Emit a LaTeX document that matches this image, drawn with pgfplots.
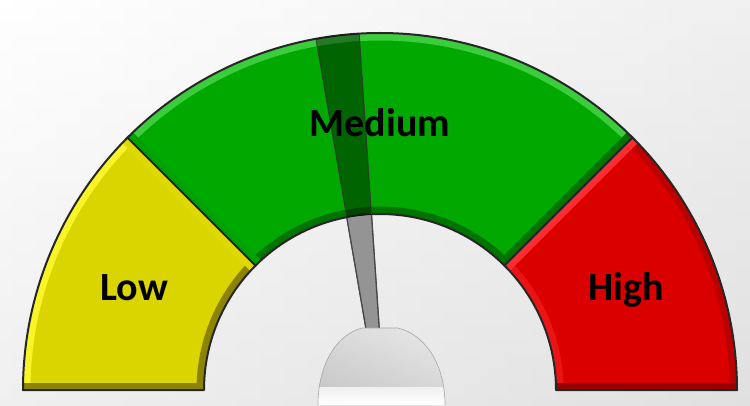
\documentclass[border=0pt]{standalone}
\usepackage{pgfplots}
\usepackage{pgfplotstable}
\pgfplotsset{compat=1.18}
\usepackage{fontspec}
\newfontfamily\labfont{Carlito}
\usetikzlibrary{calc}

\definecolor{lowc}{RGB}{218,212,0}
\definecolor{lowl}{RGB}{248,244,40}
\definecolor{lowd}{RGB}{140,132,0}
\definecolor{medc}{RGB}{0,168,0}
\definecolor{medl}{RGB}{60,205,60}
\definecolor{medd}{RGB}{0,115,0}
\definecolor{higc}{RGB}{218,0,0}
\definecolor{higl}{RGB}{255,45,45}
\definecolor{higd}{RGB}{150,0,0}

% gauge bands, in percent of the half circle
\pgfplotstableread{
from to  col label
0    25  low Low
25   75  med Medium
75   100 hig High
}\bands
\def\needleval{46.2}

% colour of a bevel edge from its outward normal (light from upper left)
\newcommand\edgecol[2]{%
  \pgfmathsetmacro\bb{cos(#1-130)}%
  \pgfmathsetmacro\pp{min(100,abs(\bb)*150)}%
  \ifdim\bb pt>0pt \colorlet{ec}{#2l!\pp!#2c}\else\colorlet{ec}{#2d!\pp!#2c}\fi}

\begin{document}
\begin{tikzpicture}
\begin{axis}[x=1bp, y=1bp, xmin=0, xmax=750, ymin=0, ymax=405,
    hide axis, clip=false]
\pgfplotsextra{
  \def\Ro{357}\def\Ri{176}
  \coordinate (C) at (axis cs:380,15);
  \def\halfdisc##1{($(C)+(0:##1)$) arc[start angle=0, end angle=180, radius=##1] -- cycle}
  % background
  \shade[left color=white, right color=gray!26] (axis cs:0,0) rectangle (axis cs:750,405);
  \shade[top color=white, bottom color=gray!22, opacity=0.55] (axis cs:0,0) rectangle (axis cs:750,405);
  % drop shadow of the dial
  \fill[black, opacity=0.35, shift={(3bp,-2bp)}]
    ($(C)+(0:\Ro bp)$) arc[start angle=0, end angle=180, radius=\Ro bp]
    -- ($(C)+(180:\Ri bp)$) arc[start angle=180, end angle=0, radius=\Ri bp] -- cycle;
  % bands
  \foreach \i in {0,1,2}{
    \pgfplotstablegetelem{\i}{from}\of\bands \let\pa\pgfplotsretval
    \pgfplotstablegetelem{\i}{to}\of\bands \let\pb\pgfplotsretval
    \pgfplotstablegetelem{\i}{col}\of\bands \let\pc\pgfplotsretval
    \pgfmathsetmacro\aA{180-1.8*\pa}
    \pgfmathsetmacro\aB{180-1.8*\pb}
    \pgfmathsetmacro\aM{(\aA+\aB)/2}
    \def\sector{($(C)+(\aA:\Ro bp)$) arc[start angle=\aA, end angle=\aB, radius=\Ro bp]
      -- ($(C)+(\aB:\Ri bp)$) arc[start angle=\aB, end angle=\aA, radius=\Ri bp] -- cycle}
    \begin{scope}
      \clip \sector;
      \fill[\pc c] \sector;
      \edgecol{\aM}{\pc}
      \draw[ec, line width=15bp] ($(C)+(\aA:\Ro bp)$) arc[start angle=\aA, end angle=\aB, radius=\Ro bp];
      \edgecol{\aM+180}{\pc}
      \draw[ec, line width=15bp] ($(C)+(\aA:\Ri bp)$) arc[start angle=\aA, end angle=\aB, radius=\Ri bp];
      \edgecol{\aA+90}{\pc}
      \draw[ec, line width=15bp] ($(C)+(\aA:\Ri bp)$) -- ($(C)+(\aA:\Ro bp)$);
      \edgecol{\aB-90}{\pc}
      \draw[ec, line width=15bp] ($(C)+(\aB:\Ri bp)$) -- ($(C)+(\aB:\Ro bp)$);
    \end{scope}
    \draw[black!85, line width=2bp, line join=round] \sector;
  }
  % needle
  \pgfmathsetmacro\t{180-1.8*\needleval}
  \def\needle{($(C)+(\t:60bp)+(\t+90:6.5bp)$) -- ($(C)+(\t:370bp)+(\t+90:22.5bp)$)
    -- ($(C)+(\t:370bp)+(\t-90:22.5bp)$) -- ($(C)+(\t:60bp)+(\t-90:6.5bp)$) -- cycle}
  \begin{scope}
    \clip \halfdisc{\Ro bp};
    \fill[black, opacity=0.4] \needle;
    \draw[black!80, line width=1bp, opacity=0.8] \needle;
  \end{scope}
  \begin{scope}
    \clip \halfdisc{\Ri bp - 1bp};
    \fill[black!42] \needle;
    \draw[black!72, line width=1.3bp] \needle;
  \end{scope}
  % labels
  \foreach \i in {0,1,2}{
    \pgfplotstablegetelem{\i}{from}\of\bands \let\pa\pgfplotsretval
    \pgfplotstablegetelem{\i}{to}\of\bands \let\pb\pgfplotsretval
    \pgfplotstablegetelem{\i}{label}\of\bands \let\pl\pgfplotsretval
    \pgfmathsetmacro\aM{180-0.9*(\pa+\pb)}
    \node[font=\labfont\fontsize{40bp}{42bp}\selectfont\bfseries, anchor=base,
      yshift=-12.5bp, inner sep=0pt] at ($(C)+(\aM:266bp)$) {\pl};
  }
  % hub
  \def\hub{(axis cs:318,0) .. controls (axis cs:318,40) and (axis cs:336,70) .. (axis cs:362,77)
    -- (axis cs:398,77) .. controls (axis cs:426,70) and (axis cs:445,40) .. (axis cs:445,0) -- cycle}
  \begin{scope}
    \clip \hub;
    \shade[left color=gray!55, right color=gray!28] \hub;
    \shade[top color=gray!8, bottom color=gray!40, opacity=0.55] \hub;
    \shade[top color=gray!12, bottom color=white] (axis cs:318,0) rectangle (axis cs:446,18);
  \end{scope}
  \draw[gray!70, line width=0.6bp] (axis cs:318,0) .. controls (axis cs:318,40) and (axis cs:336,70) .. (axis cs:362,77)
    -- (axis cs:398,77) .. controls (axis cs:426,70) and (axis cs:445,40) .. (axis cs:445,0);
}
\end{axis}
\end{tikzpicture}
\end{document}
